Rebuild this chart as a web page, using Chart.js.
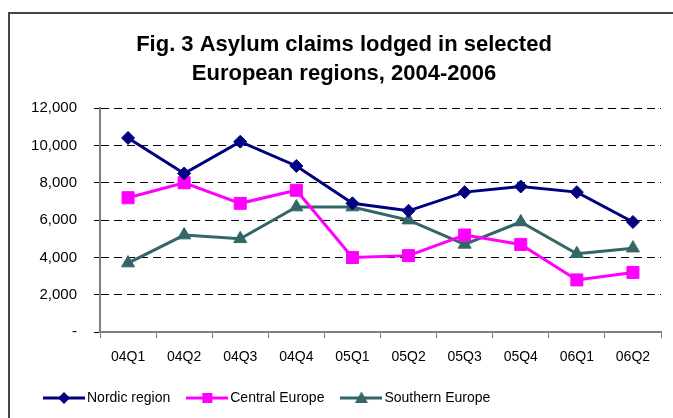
<!DOCTYPE html>
<html>
<head>
<meta charset="utf-8">
<script src="https://cdn.jsdelivr.net/npm/chart.js@4/dist/chart.umd.min.js"></script>
<style>
  html, body { margin: 0; padding: 0; background: #fff; overflow: hidden; }
  canvas { display: block; }
</style>
</head>
<body>
<canvas id="c" width="673" height="418"></canvas>
<script>
const categories = ['04Q1','04Q2','04Q3','04Q4','05Q1','05Q2','05Q3','05Q4','06Q1','06Q2'];
const nordic   = [10400, 8500, 10200, 8900, 6900, 6500, 7500, 7800, 7500, 5900];
const central  = [7200, 8000, 6900, 7600, 4000, 4100, 5200, 4700, 2800, 3200];
const southern = [3700, 5200, 5000, 6700, 6700, 6000, 4700, 5900, 4200, 4500];
const seriesNames = ['Nordic region', 'Central Europe', 'Southern Europe'];
const yTicks = [0, 2000, 4000, 6000, 8000, 10000, 12000];
const titleLines = ['Fig. 3 Asylum claims lodged in selected', 'European regions, 2004-2006'];

const colors = ['#000080', '#FF00FF', '#336666'];
const styles = ['rectRot', 'rect', 'triangle'];
const radii = [6.5, 8.5, 7.5];

function legendIcon(color, style) {
  const cv = document.createElement('canvas');
  cv.width = 42; cv.height = 16;
  const g = cv.getContext('2d');
  g.strokeStyle = color; g.lineWidth = 3;
  g.beginPath(); g.moveTo(0, 8); g.lineTo(42, 8); g.stroke();
  g.fillStyle = color;
  g.beginPath();
  if (style === 'rectRot') { g.moveTo(21, 2); g.lineTo(27, 8); g.lineTo(21, 14); g.lineTo(15, 8); }
  else if (style === 'rect') { g.rect(16, 3, 10, 10); }
  else { g.moveTo(21, 1.5); g.lineTo(27.5, 13); g.lineTo(14.5, 13); }
  g.closePath(); g.fill();
  return cv;
}

const framePlugin = {
  id: 'frame',
  afterDraw(chart) {
    const ctx = chart.ctx;
    ctx.save();
    ctx.strokeStyle = '#444';
    ctx.lineWidth = 2;
    ctx.beginPath();
    ctx.moveTo(9, 418);
    ctx.lineTo(9, 13);
    ctx.lineTo(673, 13);
    ctx.stroke();
    ctx.restore();
  }
};

const dataSets = [nordic, central, southern].map((d, i) => ({
  label: seriesNames[i],
  data: d,
  borderColor: colors[i],
  backgroundColor: colors[i],
  borderWidth: 3,
  pointStyle: styles[i],
  pointRadius: radii[i],
  pointHoverRadius: radii[i],
  pointBorderWidth: 1,
  tension: 0
}));

new Chart(document.getElementById('c'), {
  type: 'line',
  data: { labels: categories, datasets: dataSets },
  plugins: [framePlugin],
  options: {
    responsive: false,
    animation: false,
    layout: { padding: { left: 27, right: 12, top: 18, bottom: 3 } },
    plugins: {
      title: {
        display: true,
        text: titleLines,
        color: '#000',
        font: { family: 'Liberation Sans, Arial, sans-serif', size: 22, weight: 'bold', lineHeight: 1.32 },
        padding: { top: 12, bottom: 20 }
      },
      legend: {
        position: 'bottom',
        align: 'start',
        labels: {
          usePointStyle: true,
          pointStyleWidth: 32,
          color: '#000',
          font: { family: 'Liberation Sans, Arial, sans-serif', size: 14 },
          padding: 21,
          generateLabels: (chart) => chart.data.datasets.map((ds, i) => ({
            text: ds.label,
            fillStyle: ds.borderColor,
            strokeStyle: ds.borderColor,
            lineWidth: 0,
            pointStyle: legendIcon(colors[i], styles[i]),
            datasetIndex: i,
            fontColor: '#000'
          }))
        }
      },
      tooltip: { enabled: false }
    },
    scales: {
      x: {
        offset: true,
        afterFit: (axis) => { axis.height -= 7; },
        grid: { display: true, drawOnChartArea: false, drawTicks: true, tickLength: 6, color: '#808080', offset: true, lineWidth: 1 },
        border: { display: true, color: '#808080', width: 2 },
        ticks: { color: '#000', font: { family: 'Liberation Sans, Arial, sans-serif', size: 14 }, maxRotation: 0, padding: 11 }
      },
      y: {
        min: 0, max: 12000,
        afterBuildTicks: (axis) => { axis.ticks = yTicks.map(v => ({ value: v })); },
        afterFit: (axis) => { axis.width = 73; },
        grid: { color: '#000', lineWidth: 1, tickLength: 6, drawTicks: true },
        border: { display: true, color: '#808080', width: 2, dash: [8, 5] },
        ticks: {
          color: '#000',
          font: { family: 'Liberation Sans, Arial, sans-serif', size: 15 },
          padding: 17,
          callback: (v) => v === 0 ? '-' : Number(v).toLocaleString('en-US')
        }
      }
    }
  }
});
</script>
</body>
</html>
